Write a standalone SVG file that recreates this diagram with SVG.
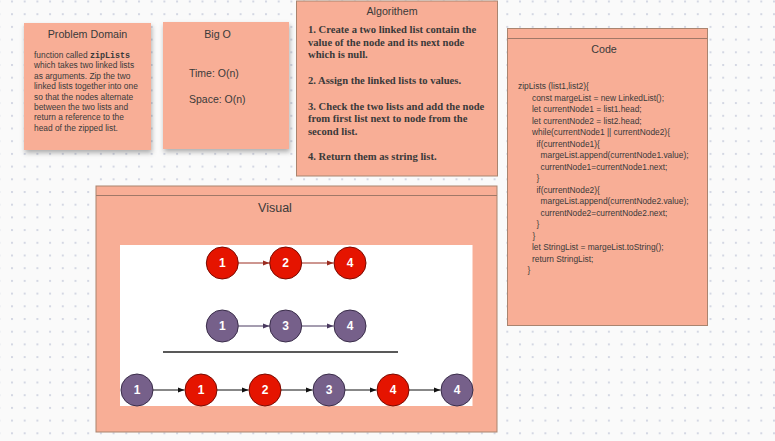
<svg xmlns="http://www.w3.org/2000/svg" width="775" height="441" viewBox="0 0 775 441">
<defs>
<pattern id="dots" x="11" y="0.5" width="12.7" height="12.7" patternUnits="userSpaceOnUse"><rect width="2" height="2" fill="#d4d7e3"/></pattern>
<filter id="shadow" x="-10%" y="-10%" width="130%" height="130%"><feDropShadow dx="1" dy="3" stdDeviation="2.5" flood-color="#000" flood-opacity="0.3"/></filter>
<marker id="ahR" viewBox="0 0 10 10" refX="10" refY="5" markerWidth="7" markerHeight="7" orient="auto" markerUnits="userSpaceOnUse"><path d="M0,1 L10,5 L0,9 z" fill="#9b2c20"/></marker>
<marker id="ahP" viewBox="0 0 10 10" refX="10" refY="5" markerWidth="7" markerHeight="7" orient="auto" markerUnits="userSpaceOnUse"><path d="M0,1 L10,5 L0,9 z" fill="#4a3a60"/></marker>
<marker id="ahK" viewBox="0 0 10 10" refX="10" refY="5" markerWidth="7" markerHeight="7" orient="auto" markerUnits="userSpaceOnUse"><path d="M0,1 L10,5 L0,9 z" fill="#111"/></marker>
</defs>
<style>
.box{fill:#f8ae96;stroke:#a9846f;stroke-width:1}
.note{fill:#f8ae96}
.hd{stroke:#a07868;stroke-width:1}
.t{font-family:"Liberation Sans",Arial,sans-serif;fill:#3a3a3a}
.title{font-size:10.7px;text-anchor:middle}
.body{font-size:8.4px}
.serif{font-family:"Liberation Serif","Times New Roman",serif;font-weight:bold;font-size:10.6px;fill:#3a3a3a}
.red{fill:#e51400;stroke:#7a0a00;stroke-width:1}
.pur{fill:#76608a;stroke:#3a2d4a;stroke-width:1}
.num{font-family:"Liberation Sans",Arial,sans-serif;font-weight:bold;font-size:12px;fill:#fff;text-anchor:middle}
.aR{stroke:#9b2c20;stroke-width:1;fill:none;marker-end:url(#ahR)}
.aP{stroke:#4a3a60;stroke-width:1;fill:none;marker-end:url(#ahP)}
.aK{stroke:#111;stroke-width:1;fill:none;marker-end:url(#ahK)}
</style>
<rect width="775" height="441" fill="#fafafa"/>
<rect width="775" height="441" fill="url(#dots)"/>

<g id="problem-domain">
<rect class="note" x="24" y="23" width="127" height="127" filter="url(#shadow)"/>
<text class="t title" x="87.5" y="38">Problem Domain</text>
<text class="t body" x="34" y="58">function called <tspan font-family="'Liberation Mono','Courier New',monospace" font-weight="bold">zipLists</tspan></text>
<text class="t body" x="34" y="68.4">which takes two linked lists</text>
<text class="t body" x="34" y="78.8">as arguments. Zip the two</text>
<text class="t body" x="34" y="89.2">linked lists together into one</text>
<text class="t body" x="34" y="99.6">so that the nodes alternate</text>
<text class="t body" x="34" y="110">between the two lists and</text>
<text class="t body" x="34" y="120.4">return a reference to the</text>
<text class="t body" x="34" y="130.8">head of the zipped list.</text>
</g>

<g id="big-o">
<rect class="note" x="163" y="22" width="126" height="127" filter="url(#shadow)"/>
<text class="t title" x="217.5" y="38">Big O</text>
<text class="t" font-size="10.5" x="189" y="76.5">Time: O(n)</text>
<text class="t" font-size="10.5" x="189" y="103">Space: O(n)</text>
</g>

<g id="algorithm">
<rect class="box" x="296.5" y="1" width="201" height="175"/>
<text class="t title" x="392" y="14.5">Algorithem</text>
<text class="serif" x="308" y="32.5">1. Create a two linked list contain the</text>
<text class="serif" x="308" y="45.5">value of the node and its next node</text>
<text class="serif" x="308" y="58">which is null.</text>
<text class="serif" x="308" y="83.5">2. Assign the linked lists to values.</text>
<text class="serif" x="308" y="109.5">3. Check the two lists and add the node</text>
<text class="serif" x="308" y="122">from first list next to node from the</text>
<text class="serif" x="308" y="134.5">second list.</text>
<text class="serif" x="308" y="160">4. Return them as string list.</text>
</g>

<g id="code">
<rect class="box" x="507.5" y="28.5" width="200" height="297"/>
<line class="hd" x1="507.5" y1="38.5" x2="707.5" y2="38.5"/>
<text class="t title" x="604" y="53">Code</text>
<g class="t body">
<text x="518" y="89">zipLists (list1,list2){</text>
<text x="532" y="100.5">const margeList = new LinkedList();</text>
<text x="532" y="112">let currentNode1 = list1.head;</text>
<text x="532" y="123.5">let currentNode2 = list2.head;</text>
<text x="532" y="135">while(currentNode1 || currentNode2){</text>
<text x="536.5" y="146.5">if(currentNode1){</text>
<text x="540.5" y="158">margeList.append(currentNode1.value);</text>
<text x="540.5" y="169.5">currentNode1=currentNode1.next;</text>
<text x="536.5" y="181">}</text>
<text x="536.5" y="192.5">if(currentNode2){</text>
<text x="540.5" y="204">margeList.append(currentNode2.value);</text>
<text x="540.5" y="215.5">currentNode2=currentNode2.next;</text>
<text x="536.5" y="227">}</text>
<text x="532.5" y="238.5">}</text>
<text x="532" y="250">let StringList = margeList.toString();</text>
<text x="532" y="261.5">return StringList;</text>
<text x="527.5" y="273">}</text>
</g>
</g>

<g id="visual">
<rect class="box" x="96" y="186" width="401" height="246"/>
<line class="hd" x1="96" y1="195.5" x2="497" y2="195.5"/>
<text class="t" font-size="12.5" text-anchor="middle" x="275" y="211.5">Visual</text>
<rect x="120" y="245" width="352.5" height="161" fill="#ffffff"/>
<line x1="163" y1="352" x2="398" y2="352" stroke="#222" stroke-width="1.5"/>
</g>

<g id="connectors">
<line class="aR" x1="238.5" y1="263" x2="269.5" y2="263"/>
<line class="aR" x1="302" y1="263" x2="333.5" y2="263"/>
<line class="aP" x1="238.5" y1="326" x2="269.5" y2="326"/>
<line class="aP" x1="302" y1="326" x2="333.5" y2="326"/>
<line class="aK" x1="153" y1="390" x2="184.5" y2="390"/>
<line class="aK" x1="217" y1="390" x2="248.5" y2="390"/>
<line class="aK" x1="281" y1="390" x2="312.5" y2="390"/>
<line class="aK" x1="345" y1="390" x2="376.5" y2="390"/>
<line class="aK" x1="409" y1="390" x2="440.5" y2="390"/>
</g>

<g id="node-a1"><circle class="red" cx="222.3" cy="263" r="16"/><text class="num" x="222.3" y="267.3">1</text></g>
<g id="node-a2"><circle class="red" cx="285.7" cy="263" r="16"/><text class="num" x="285.7" y="267.3">2</text></g>
<g id="node-a4"><circle class="red" cx="350" cy="263" r="16"/><text class="num" x="350" y="267.3">4</text></g>
<g id="node-b1"><circle class="pur" cx="222.3" cy="326" r="16"/><text class="num" x="222.3" y="330.3">1</text></g>
<g id="node-b3"><circle class="pur" cx="285.7" cy="326" r="16"/><text class="num" x="285.7" y="330.3">3</text></g>
<g id="node-b4"><circle class="pur" cx="350" cy="326" r="16"/><text class="num" x="350" y="330.3">4</text></g>
<g id="node-c1"><circle class="pur" cx="137" cy="390" r="16"/><text class="num" x="137" y="394.3">1</text></g>
<g id="node-c2"><circle class="red" cx="201" cy="390" r="16"/><text class="num" x="201" y="394.3">1</text></g>
<g id="node-c3"><circle class="red" cx="265" cy="390" r="16"/><text class="num" x="265" y="394.3">2</text></g>
<g id="node-c4"><circle class="pur" cx="329" cy="390" r="16"/><text class="num" x="329" y="394.3">3</text></g>
<g id="node-c5"><circle class="red" cx="393" cy="390" r="16"/><text class="num" x="393" y="394.3">4</text></g>
<g id="node-c6"><circle class="pur" cx="457" cy="390" r="16"/><text class="num" x="457" y="394.3">4</text></g>
</svg>
